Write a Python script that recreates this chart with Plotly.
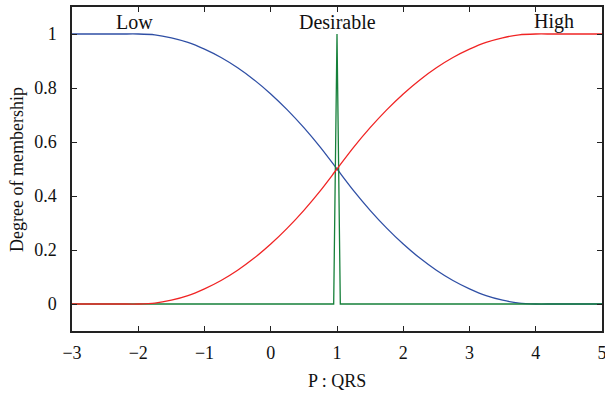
import plotly.graph_objects as go

# Values
x_grid = [-3, -2.75, -2.5, -2.25, -2, -1.75, -1.5, -1.25, -1, -0.75, -0.5, -0.25,
          0, 0.25, 0.5, 0.75, 1, 1.25, 1.5, 1.75, 2, 2.25, 2.5, 2.75,
          3, 3.25, 3.5, 3.75, 4, 4.25, 4.5, 4.75, 5]
low_vals = [1, 1, 1, 1, 1, 0.997, 0.986, 0.969, 0.944, 0.913, 0.875, 0.830,
            0.778, 0.719, 0.653, 0.580, 0.5, 0.420, 0.347, 0.281, 0.222, 0.170, 0.125, 0.087,
            0.056, 0.031, 0.014, 0.003, 0, 0, 0, 0, 0]
high_vals = [0, 0, 0, 0, 0, 0.003, 0.014, 0.031, 0.056, 0.087, 0.125, 0.170,
             0.222, 0.281, 0.347, 0.420, 0.5, 0.580, 0.653, 0.719, 0.778, 0.830, 0.875, 0.913,
             0.944, 0.969, 0.986, 0.997, 1, 1, 1, 1, 1]
des_x = [-3, 0.95, 1, 1.05, 5]
des_vals = [0, 0, 1, 0, 0]

label_names = ["Low", "Desirable", "High"]
label_x = [-2.05, 1, 4.28]
label_y = [1.045, 1.045, 1.045]

x_ticks = [-3, -2, -1, 0, 1, 2, 3, 4, 5]
y_ticks = [0, 0.2, 0.4, 0.6, 0.8, 1]
y_ticktext = ["0", "0.2", "0.4", "0.6", "0.8", "1"]

x_title = "P : QRS"
y_title = "Degree of membership"

FONT = "Liberation Serif, Times New Roman, serif"
FS = 18

fig = go.Figure()
fig.add_trace(go.Scatter(x=x_grid, y=low_vals, mode="lines", name="Low",
                         line=dict(color="#2f4fa5", width=1.3, shape="spline", smoothing=0.8)))
fig.add_trace(go.Scatter(x=des_x, y=des_vals, mode="lines", name="Desirable",
                         line=dict(color="#16803a", width=1.3)))
fig.add_trace(go.Scatter(x=x_grid, y=high_vals, mode="lines", name="High",
                         line=dict(color="#f02424", width=1.3, shape="spline", smoothing=0.8)))

for name, lx, ly in zip(label_names, label_x, label_y):
    fig.add_annotation(x=lx, y=ly, text=name, showarrow=False,
                       font=dict(family=FONT, size=20, color="#111"),
                       xanchor="center", yanchor="middle")

# axis titles placed as annotations (paper coords)
fig.add_annotation(xref="paper", yref="paper", x=0.5, y=-0.155, text=x_title, showarrow=False,
                   font=dict(family=FONT, size=FS, color="#111"), xanchor="center", yanchor="middle")
fig.add_annotation(xref="paper", yref="paper", x=-0.104, y=0.5, text=y_title, showarrow=False,
                   textangle=-90,
                   font=dict(family=FONT, size=FS, color="#111"), xanchor="center", yanchor="middle")

axis_common = dict(showline=True, linecolor="#222", linewidth=1.5, mirror="ticks",
                   ticks="inside", ticklen=5, tickwidth=1.2, tickcolor="#222",
                   showgrid=False, zeroline=False, automargin=False,
                   ticklabeloverflow="allow",
                   tickfont=dict(family=FONT, size=FS, color="#111"))

fig.update_xaxes(range=[-3, 5], tickvals=x_ticks, ticklabelstandoff=5, **axis_common)
fig.update_yaxes(range=[-0.1, 1.1], tickvals=y_ticks, ticktext=y_ticktext, ticklabelstandoff=10,
                 **axis_common)

fig.update_layout(width=605, height=398, showlegend=False,
                  margin=dict(l=72, r=3, t=7, b=67),
                  plot_bgcolor="white", paper_bgcolor="white")

fig.write_html("out.html", config={"displayModeBar": False},
               post_script="document.body.style.margin='0';document.body.style.overflow='hidden';")
